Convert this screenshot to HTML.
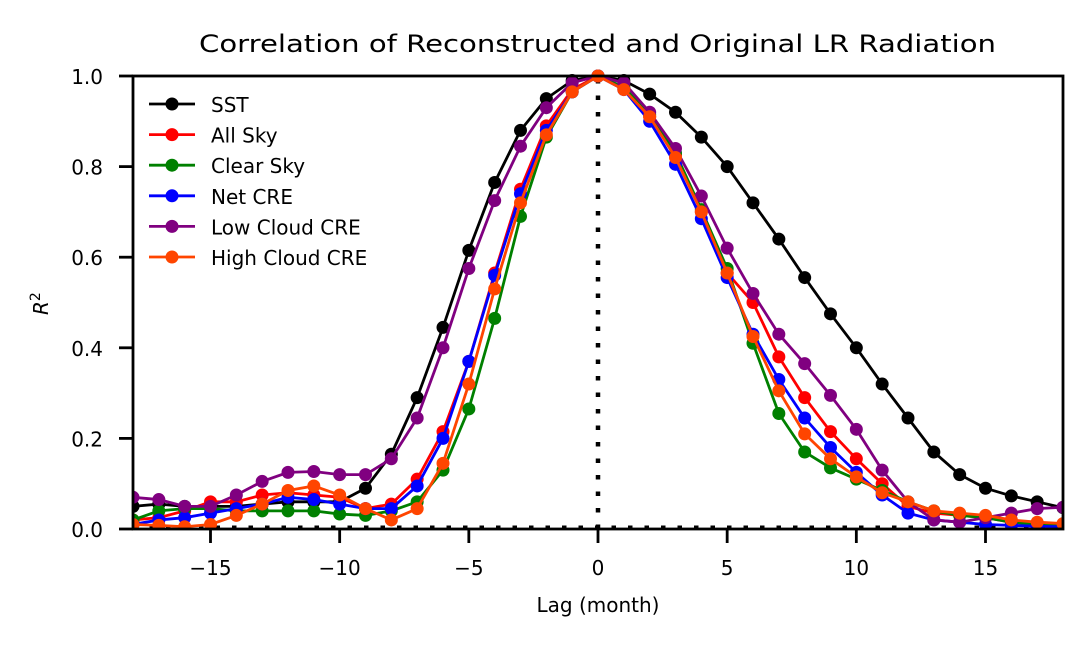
<!DOCTYPE html>
<html><head><meta charset="utf-8"><style>
body{margin:0;background:#fff;}
text{font-family:"DejaVu Sans","Liberation Sans",sans-serif;fill:#000;}
</style></head><body>
<svg id="chart" width="1092" height="645" xmlns="http://www.w3.org/2000/svg">
<rect width="1092" height="645" fill="#fff"/>
<text x="199" y="52" font-size="24" textLength="797" lengthAdjust="spacingAndGlyphs">Correlation of Reconstructed and Original LR Radiation</text>
<text x="598" y="612" font-size="20" text-anchor="middle">Lag (month)</text>
<text transform="translate(48,315) rotate(-90)" font-size="20" font-style="italic">R<tspan dy="-8" font-size="14" font-style="normal">2</tspan></text>
<g id="plot"></g>
</svg>
<script>
const lags = [];
for (let i = -18; i <= 18; i++) lags.push(i);
const seriesNames = ["SST","All Sky","Clear Sky","Net CRE","Low Cloud CRE","High Cloud CRE"];
const sst = [0.05,0.055,0.05,0.05,0.05,0.055,0.06,0.06,0.06,0.09,0.165,0.29,0.445,0.615,0.765,0.88,0.95,0.99,1.0,0.99,0.96,0.92,0.865,0.80,0.72,0.64,0.555,0.475,0.40,0.32,0.245,0.17,0.12,0.09,0.073,0.06,0.047];
const allSky = [0.02,0.025,0.04,0.06,0.06,0.075,0.08,0.075,0.07,0.045,0.055,0.11,0.215,0.37,0.565,0.75,0.89,0.97,1.0,0.975,0.91,0.825,0.70,0.565,0.50,0.38,0.29,0.215,0.155,0.10,0.05,0.035,0.03,0.025,0.015,0.01,0.01];
const clearSky = [0.02,0.04,0.045,0.045,0.04,0.04,0.04,0.04,0.033,0.03,0.04,0.06,0.13,0.265,0.465,0.69,0.865,0.965,1.0,0.975,0.915,0.83,0.705,0.575,0.41,0.255,0.17,0.135,0.11,0.085,0.06,0.04,0.03,0.025,0.015,0.01,0.01];
const netCre = [0.01,0.02,0.025,0.035,0.045,0.055,0.07,0.065,0.055,0.045,0.045,0.095,0.2,0.37,0.56,0.74,0.88,0.965,1.0,0.97,0.90,0.805,0.685,0.555,0.43,0.33,0.245,0.18,0.125,0.075,0.035,0.02,0.015,0.01,0.008,0.006,0.005];
const lowCloud = [0.07,0.065,0.05,0.05,0.075,0.105,0.125,0.127,0.12,0.12,0.155,0.245,0.40,0.575,0.725,0.845,0.93,0.985,1.0,0.985,0.92,0.84,0.735,0.62,0.52,0.43,0.365,0.295,0.22,0.13,0.06,0.02,0.015,0.025,0.035,0.045,0.048];
const highCloud = [0.01,0.008,0.005,0.01,0.03,0.055,0.085,0.095,0.075,0.045,0.02,0.045,0.145,0.32,0.53,0.72,0.87,0.965,1.0,0.97,0.91,0.82,0.70,0.565,0.425,0.305,0.21,0.155,0.115,0.08,0.06,0.04,0.035,0.03,0.02,0.015,0.012];
const xTicks = [-15,-10,-5,0,5,10,15];
const xTickLabels = ["\u221215","\u221210","\u22125","0","5","10","15"];
const yTicks = [0,0.2,0.4,0.6,0.8,1.0];
const yTickLabels = ["0.0","0.2","0.4","0.6","0.8","1.0"];

const L=133,R=1063,T=76,B=529;
const xs = v => L + (v + 18) / 36 * (R - L);
const ys = v => B - v * (B - T);
const NS="http://www.w3.org/2000/svg";
const g=document.getElementById('plot');
function mk(tag,attrs,parent){const e=document.createElementNS(NS,tag);for(const k in attrs)e.setAttribute(k,attrs[k]);(parent||g).appendChild(e);return e;}

const clip=mk('clipPath',{id:'cp'});mk('rect',{x:L,y:T-10,width:R-L,height:B-T+10},clip);

const vl=mk('line',{x1:xs(0),x2:xs(0),y1:B,y2:T,stroke:'#000','stroke-width':4.5,'stroke-dasharray':'4.5,12'});


const hl=mk('line',{x1:L,x2:R,y1:ys(0)-2,y2:ys(0)-2,stroke:'#000','stroke-width':3,'stroke-dasharray':'4.5,12'});



const colors=["#000000","#ff0000","#008000","#0000ff","#800080","#ff4500"];
const data=[sst,allSky,clearSky,netCre,lowCloud,highCloud];
const slugs=["sst","all-sky","clear-sky","net-cre","low-cloud-cre","high-cloud-cre"];
const sg=mk('g',{'clip-path':'url(#cp)'});
data.forEach((arr,si)=>{
  const grp=mk('g',{},sg);
  
  
  const pts=arr.map((v,i)=>xs(lags[i])+','+ys(v)).join(' ');
  const pl=mk('polyline',{points:pts,fill:'none',stroke:colors[si],'stroke-width':2.8},grp);
  
  
  arr.forEach((v,i)=>{
    const c=mk('circle',{cx:xs(lags[i]),cy:ys(v),r:6.5,fill:colors[si]},grp);
    
    
  });
});

const fr=mk('rect',{x:L,y:T,width:R-L,height:B-T,fill:'none',stroke:'#000','stroke-width':2.8});



xTicks.forEach((v,i)=>{
  const t=mk('line',{x1:xs(v),x2:xs(v),y1:B,y2:B+14,stroke:'#000','stroke-width':2.8});
  
  
  const tx=mk('text',{x:xs(v),y:B+46,'font-size':20,'text-anchor':'middle'});
  tx.textContent=xTickLabels[i];
  
  
});
yTicks.forEach((v,i)=>{
  const t=mk('line',{x1:L-14,x2:L,y1:ys(v),y2:ys(v),stroke:'#000','stroke-width':2.8});
  
  
  const tx=mk('text',{x:L-30,y:ys(v)+8,'font-size':20,'text-anchor':'end'});
  tx.textContent=yTickLabels[i];
  
  
});

const lg=mk('g',{});


seriesNames.forEach((n,i)=>{
  const y=104+i*30.6;
  const e=mk('g',{},lg);
  
  
  mk('line',{x1:149,x2:195,y1:y,y2:y,stroke:colors[i],'stroke-width':2.8},e);
  mk('circle',{cx:172,cy:y,r:6.5,fill:colors[i]},e);
  const t=mk('text',{x:211,y:y+8,'font-size':20},e);
  t.textContent=n;
});
</script>
</body></html>
